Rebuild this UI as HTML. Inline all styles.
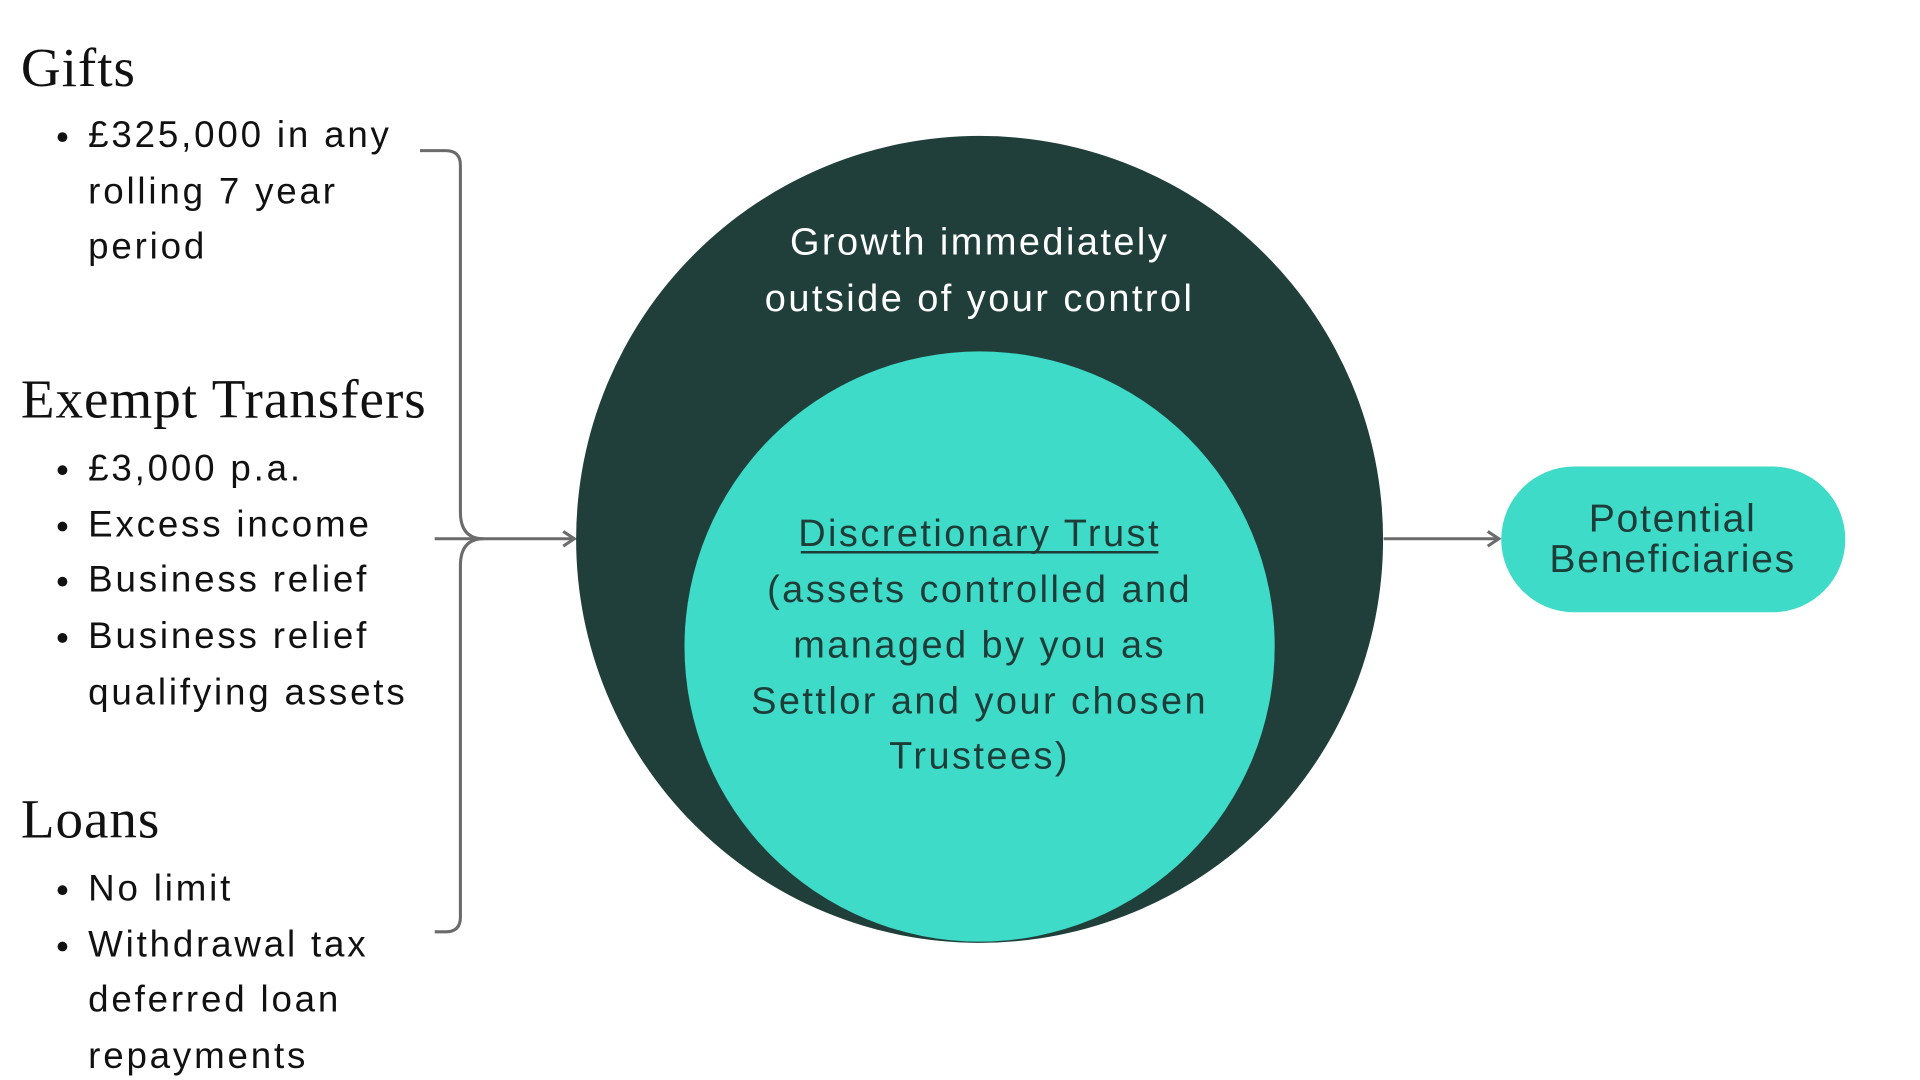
<!DOCTYPE html>
<html><head><meta charset="utf-8"><style>
html,body{margin:0;padding:0;background:#fff;}
svg{display:block;}
.s{font-family:"Liberation Sans",sans-serif;}
.h{font-family:"Liberation Serif",serif;}
</style></head><body>
<svg width="1920" height="1080" viewBox="0 0 1568 882" xmlns="http://www.w3.org/2000/svg">
<rect width="1568" height="882" fill="#fff"/>
<g fill="#111" class="s" font-size="30" letter-spacing="2.3" dominant-baseline="central">
<text class="h" x="17" y="55" font-size="45" letter-spacing="0.8">Gifts</text>
<text x="72" y="110">£325,000 in any</text>
<text x="72" y="156">rolling 7 year</text>
<text x="72" y="201">period</text>
<text class="h" x="17" y="326" font-size="45" letter-spacing="0.8">Exempt Transfers</text>
<text x="72" y="382">£3,000 p.a.</text>
<text x="72" y="428">Excess income</text>
<text x="72" y="473">Business relief</text>
<text x="72" y="519">Business relief</text>
<text x="72" y="565">qualifying  assets</text>
<text class="h" x="17" y="669" font-size="45" letter-spacing="0.8">Loans</text>
<text x="72" y="725">No limit</text>
<text x="72" y="771">Withdrawal tax</text>
<text x="72" y="816">deferred loan</text>
<text x="72" y="862">repayments</text>
</g>
<g fill="#111">
<circle cx="51" cy="112" r="4"/>
<circle cx="51" cy="384" r="4"/><circle cx="51" cy="430" r="4"/><circle cx="51" cy="475" r="4"/><circle cx="51" cy="521" r="4"/>
<circle cx="51" cy="727" r="4"/><circle cx="51" cy="773" r="4"/>
</g>
<g fill="none" stroke="#6b6b6b" stroke-width="2.5">
<path d="M343 123 H364 Q376 123 376 135 V418 Q376 440 395 440 Q376 440 376 462 V749 Q376 761 364 761 H355"/>
<path d="M355 440 H468"/>
<path d="M460 434 L469 440 L460 446"/>
<path d="M1130 440 H1223"/>
<path d="M1215 434 L1224 440 L1215 446"/>
</g>
<circle cx="800" cy="440.5" r="329.5" fill="#213f3a"/>
<circle cx="800" cy="528" r="241" fill="#3ddbc8"/>
<g class="s" font-size="31" letter-spacing="2" text-anchor="middle" dominant-baseline="central">
<text x="800" y="198" fill="#fff">Growth immediately</text>
<text x="800" y="244" fill="#fff">outside of your control</text>
<g fill="#1f3d38">
<text x="800" y="436">Discretionary Trust</text>
<text x="800" y="482">(assets controlled and</text>
<text x="800" y="527">managed by you as</text>
<text x="800" y="573">Settlor and your chosen</text>
<text x="800" y="618">Trustees)</text>
</g>
</g>
<line x1="654" y1="451" x2="946" y2="451" stroke="#1f3d38" stroke-width="2"/>
<rect x="1226" y="381" width="281" height="119" rx="59.5" fill="#3ddbc8"/>
<g class="s" font-size="32" letter-spacing="1.4" text-anchor="middle" dominant-baseline="central" fill="#1f3d38">
<text x="1366" y="424">Potential</text>
<text x="1366" y="457">Beneficiaries</text>
</g>
</svg>
</body></html>
